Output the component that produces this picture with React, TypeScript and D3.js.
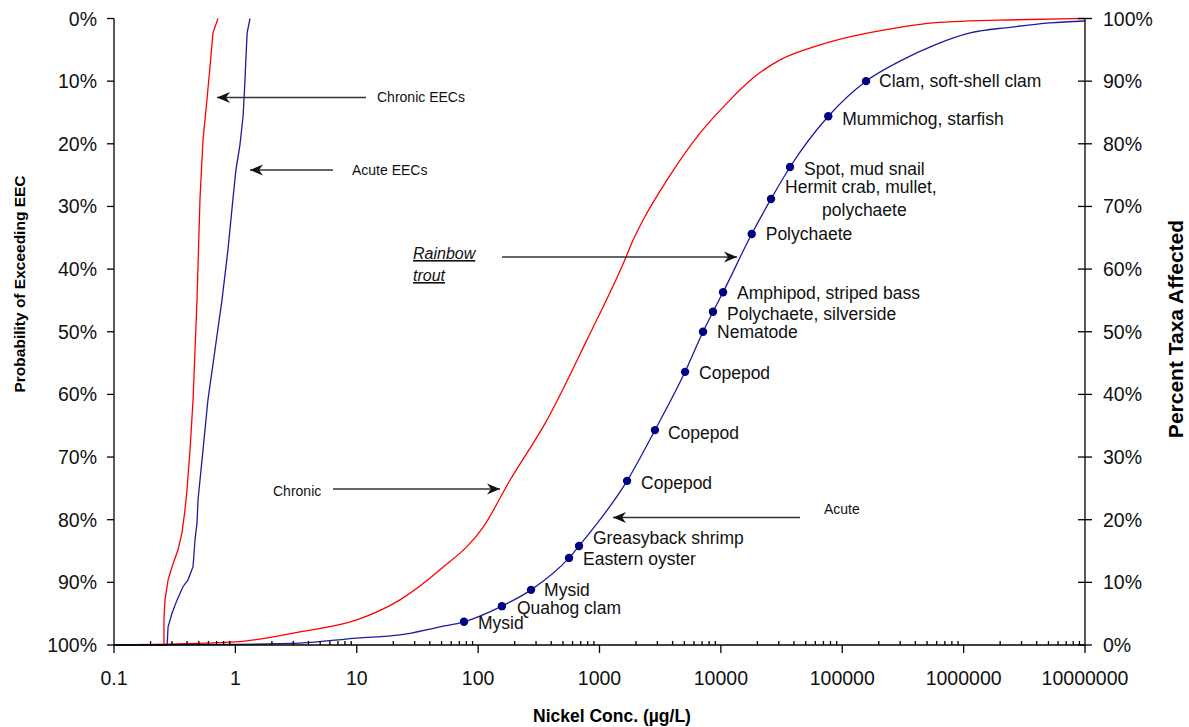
import React from "react";
import * as d3 from "d3";

// ---- Data ----
// Acute SSD: species points (concentration ug/L, percent taxa affected)
const acuteSpecies: string[] = [
  "Mysid", "Quahog clam", "Mysid", "Eastern oyster", "Greasyback shrimp",
  "Copepod", "Copepod", "Copepod", "Nematode", "Polychaete, silverside",
  "Amphipod, striped bass", "Polychaete", "Hermit crab, mullet,\npolychaete",
  "Spot, mud snail", "Mummichog, starfish", "Clam, soft-shell clam",
];
const acuteSpeciesConc: number[] = [
  76.5, 157, 273, 561, 678, 1687, 2865, 5070, 7130, 8610, 10420, 17950, 25900, 37150, 76700, 157000,
];
const acuteSpeciesPct: number[] = [
  3.7, 6.2, 8.8, 13.9, 15.8, 26.2, 34.3, 43.6, 50.0, 53.2, 56.3, 65.6, 71.2, 76.3, 84.4, 90.0,
];
// Acute SSD curve tails
const acuteLowConc: number[] = [0.1, 1, 3.4, 10, 22.7, 48.5];
const acuteLowPct: number[] = [0, 0.1, 0.3, 1.1, 1.6, 2.9];
const acuteHighConc: number[] = [299000, 581000, 1130000, 2410000, 5150000, 10000000];
const acuteHighPct: number[] = [93.2, 95.8, 97.7, 98.6, 99.3, 99.6];

// Chronic SSD curve
const chronicConc: number[] = [
  0.1, 1, 3.4, 10, 22.7, 48.5, 110, 183, 369, 788, 1652, 1888, 2280, 3595, 6730, 11220, 18400, 30700,
  65600, 299000, 560000, 2750000, 10000000,
];
const chronicPct: number[] = [
  0, 0.5, 2.1, 4.0, 7.2, 12.0, 18.8, 26.3, 35.9, 48.7, 61.9, 64.6, 67.8, 74.2, 81.7, 86.5, 90.5, 93.4,
  95.8, 98.6, 99.3, 99.8, 100,
];

// Chronic EEC exceedance curve (concentration, probability of exceeding %)
const chronicEecConc: number[] = [
  0.1, 0.258, 0.258, 0.263, 0.279, 0.301, 0.337, 0.363, 0.384, 0.399, 0.423, 0.448, 0.483, 0.511, 0.541,
  0.583, 0.618, 0.654, 0.719,
];
const chronicEecProb: number[] = [
  100, 100, 96.0, 92.8, 89.6, 87.5, 84.8, 82.1, 78.5, 75.3, 68.9, 60.9, 44.9, 28.8, 19.4, 13.0, 7.7, 2.3, 0,
];
// Acute EEC exceedance curve
const acuteEecConc: number[] = [
  0.1, 0.274, 0.279, 0.301, 0.331, 0.37, 0.407, 0.448, 0.465, 0.483, 0.492, 0.541, 0.594, 0.679, 0.776,
  0.869, 0.955, 1.01, 1.09, 1.16, 1.2, 1.22, 1.25, 1.32,
];
const acuteEecProb: number[] = [
  100, 100, 97.1, 94.9, 92.8, 90.7, 89.6, 87.5, 83.2, 80.5, 76.9, 68.9, 60.9, 52.9, 44.9, 36.9, 28.8,
  24.2, 20.2, 15.4, 9.8, 6.6, 2.3, 0,
];

const xTickValues: number[] = [0.1, 1, 10, 100, 1000, 10000, 100000, 1000000, 10000000];
const xTickLabels: string[] = ["0.1", "1", "10", "100", "1000", "10000", "100000", "1000000", "10000000"];
const yTickValues: number[] = [0, 10, 20, 30, 40, 50, 60, 70, 80, 90, 100];

// ---- Layout ----
const W = 1189;
const H = 727;
const left = 114;
const right = 1085;
const top = 18.5;
const bottom = 645;
const FONT = "'Liberation Sans', Arial, Helvetica, sans-serif";
const RED = "#ff0000";
const BLUE = "#1c1c9c";
const DOT = "#000080";
const ARROW = "#333333";

// label offsets relative to dots (layout only)
const labelDx: number[] = [14, 15, 13, 14, 14, 14, 13, 14, 14, 14, 14, 14, 14, 14, 14, 13];
const labelDy: number[] = [7, 8, 6, 7, -2, 8, 9, 7, 6, 8, 7, 6, -6, 8, 9, 6];

export default function App() {
  const x = d3.scaleLog().domain([0.1, 1e7]).range([left, right]);
  const yR = d3.scaleLinear().domain([0, 100]).range([bottom, top]); // percent taxa affected
  const yL = d3.scaleLinear().domain([0, 100]).range([top, bottom]); // probability of exceeding

  const ssdLine = d3
    .line<[number, number]>()
    .x((d) => x(d[0]))
    .y((d) => yR(d[1]))
    .curve(d3.curveMonotoneX);
  const eecLine = d3
    .line<[number, number]>()
    .x((d) => x(d[0]))
    .y((d) => yL(d[1]));

  const acutePts: [number, number][] = [
    ...acuteLowConc.map((c, i) => [c, acuteLowPct[i]] as [number, number]),
    ...acuteSpeciesConc.map((c, i) => [c, acuteSpeciesPct[i]] as [number, number]),
    ...acuteHighConc.map((c, i) => [c, acuteHighPct[i]] as [number, number]),
  ];
  const chronicPts: [number, number][] = chronicConc.map((c, i) => [c, chronicPct[i]]);
  const chronicEecPts: [number, number][] = chronicEecConc.map((c, i) => [c, chronicEecProb[i]]);
  const acuteEecPts: [number, number][] = acuteEecConc.map((c, i) => [c, acuteEecProb[i]]);

  // minor ticks
  const minorTicks: number[] = [];
  for (let e = -1; e < 7; e++) {
    for (let m = 2; m <= 9; m++) minorTicks.push(m * Math.pow(10, e));
  }

  const arrows = [
    { x1: 366, y1: 97.5, x2: 217, y2: 97.5 },
    { x1: 333, y1: 170, x2: 250, y2: 170 },
    { x1: 502, y1: 257, x2: 737, y2: 257 },
    { x1: 333, y1: 489, x2: 500, y2: 489 },
    { x1: 800, y1: 517.5, x2: 613, y2: 517.5 },
  ];

  return (
    <svg width={W} height={H} style={{ position: "absolute", left: 0, top: 0, background: "#fff" }}>
      <defs>
        <marker
          id="ah"
          markerUnits="userSpaceOnUse"
          markerWidth={16}
          markerHeight={14}
          refX={13}
          refY={7}
          orient="auto"
        >
          <path d="M0,1.5 L13,7 L0,12.5 L4,7 Z" fill="#111" />
        </marker>
      </defs>
      <rect x={0} y={0} width={W} height={H} fill="#fff" />

      {/* curves */}
      <path d={ssdLine(chronicPts) || ""} fill="none" stroke={RED} strokeWidth={1.3} />
      <path d={ssdLine(acutePts) || ""} fill="none" stroke={BLUE} strokeWidth={1.3} />
      <path d={eecLine(chronicEecPts) || ""} fill="none" stroke={RED} strokeWidth={1.3} />
      <path d={eecLine(acuteEecPts) || ""} fill="none" stroke={BLUE} strokeWidth={1.3} />

      {/* axes */}
      <g stroke="#000" strokeWidth={1.3}>
        <line x1={left} y1={top} x2={left} y2={bottom} />
        <line x1={right} y1={top} x2={right} y2={bottom} />
        <line x1={left} y1={bottom} x2={right} y2={bottom} />
        {yTickValues.map((v) => (
          <line key={"lt" + v} x1={left - 7} x2={left} y1={yL(v)} y2={yL(v)} />
        ))}
        {yTickValues.map((v) => (
          <line key={"rt" + v} x1={right - 7} x2={right + 7} y1={yR(v)} y2={yR(v)} />
        ))}
        {xTickValues.map((v) => (
          <line key={"xt" + v} x1={x(v)} x2={x(v)} y1={bottom} y2={bottom + 8} />
        ))}
        {minorTicks.map((v, i) => (
          <line key={"mt" + i} x1={x(v)} x2={x(v)} y1={bottom - 4} y2={bottom} />
        ))}
      </g>

      {/* tick labels */}
      <g fontFamily={FONT} fontSize={19.5} fill="#111">
        {yTickValues.map((v) => (
          <text key={"ll" + v} x={97} y={yL(v)} dy="0.36em" textAnchor="end">
            {v + "%"}
          </text>
        ))}
        {yTickValues.map((v) => (
          <text key={"rl" + v} x={1103} y={yR(v)} dy="0.36em" textAnchor="start">
            {v + "%"}
          </text>
        ))}
        {xTickValues.map((v, i) => (
          <text key={"xl" + v} x={x(v)} y={685} textAnchor="middle">
            {xTickLabels[i]}
          </text>
        ))}
      </g>

      {/* axis titles */}
      <g fontFamily={FONT} fontWeight="bold" fill="#000">
        <text x={612} y={722} fontSize={17.5} textAnchor="middle">
          Nickel Conc. (µg/L)
        </text>
        <text transform="translate(25,284) rotate(-90)" fontSize={15.5} textAnchor="middle">
          Probability of Exceeding EEC
        </text>
        <text transform="translate(1183,329) rotate(-90)" fontSize={21} textAnchor="middle">
          Percent Taxa Affected
        </text>
      </g>

      {/* species dots and labels */}
      {acuteSpeciesConc.map((c, i) => (
        <circle key={"d" + i} cx={x(c)} cy={yR(acuteSpeciesPct[i])} r={4.2} fill={DOT} />
      ))}
      <g fontFamily={FONT} fontSize={17.5} fill="#111">
        {acuteSpecies.map((s, i) => {
          const px = x(acuteSpeciesConc[i]) + labelDx[i];
          const py = yR(acuteSpeciesPct[i]) + labelDy[i];
          const lines = s.split("\n");
          return (
            <text key={"l" + i} x={px} y={py}>
              {lines[0]}
              {lines.length > 1 ? (
                <tspan x={px + 37} dy={23.5}>
                  {lines[1]}
                </tspan>
              ) : null}
            </text>
          );
        })}
      </g>

      {/* annotations */}
      {arrows.map((a, i) => (
        <line
          key={"a" + i}
          x1={a.x1}
          y1={a.y1}
          x2={a.x2}
          y2={a.y2}
          stroke={ARROW}
          strokeWidth={1.6}
          markerEnd="url(#ah)"
        />
      ))}
      <g fontFamily={FONT} fontSize={14} fill="#111">
        <text x={377} y={102}>Chronic EECs</text>
        <text x={352} y={175}>Acute EECs</text>
        <text x={273} y={496}>Chronic</text>
        <text x={824} y={514}>Acute</text>
        <text x={413} y={259} fontStyle="italic" textDecoration="underline" fontSize={16}>
          Rainbow
        </text>
        <text x={413} y={281} fontStyle="italic" textDecoration="underline" fontSize={16}>
          trout
        </text>
      </g>
    </svg>
  );
}
